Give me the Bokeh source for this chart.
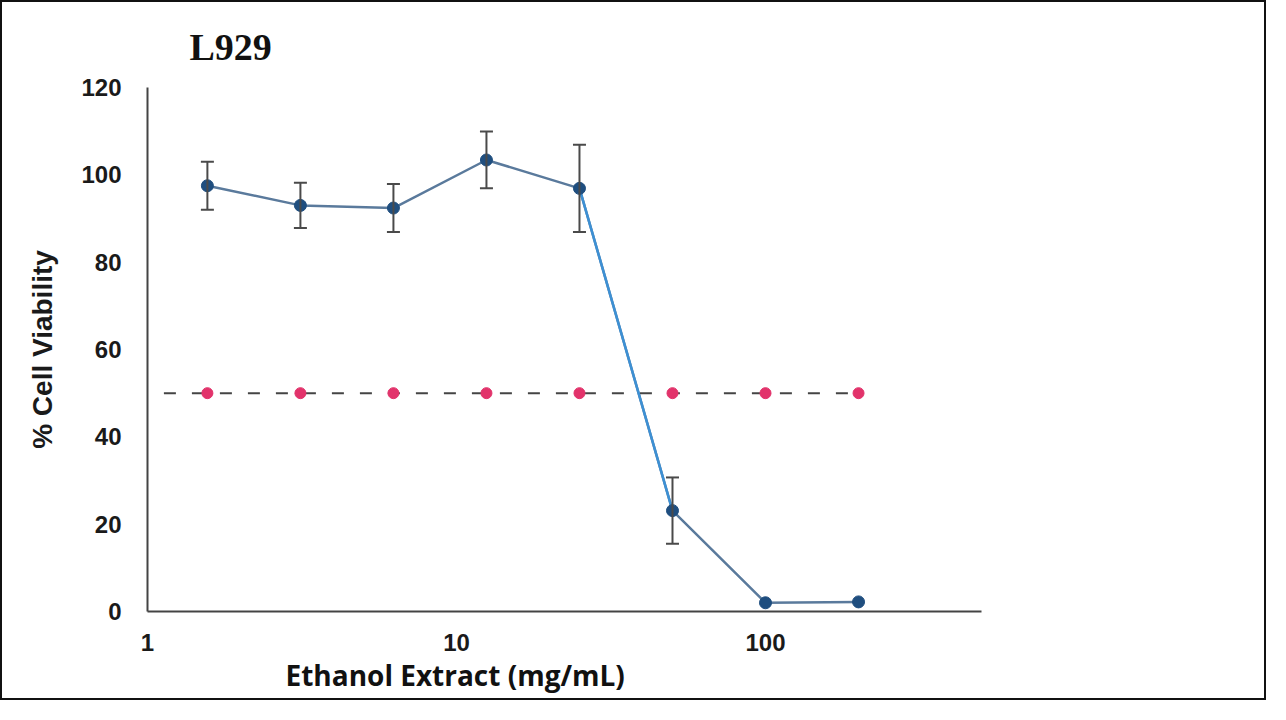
from bokeh.plotting import figure
from bokeh.models import (FixedTicker, Whisker, ColumnDataSource, TeeHead,
                          NumeralTickFormatter, Range1d, Title)
from bokeh.embed import file_html
from bokeh.resources import INLINE

# ---- data ----
concentration = [1.5625, 3.125, 6.25, 12.5, 25, 50, 100, 200]
viability = [97.5, 93.0, 92.4, 103.4, 96.9, 23.1, 2.0, 2.2]
viability_err = [5.5, 5.2, 5.5, 6.5, 10.0, 7.6, 0.0, 0.0]
ic50_level = [50, 50, 50, 50, 50, 50, 50, 50]
ic50_line_x = [1.13, 200]
ic50_line_y = [50, 50]
y_ticks = [0, 20, 40, 60, 80, 100, 120]
x_ticks = [1, 10, 100]
title_text = "L929"
x_label = "Ethanol Extract (mg/mL)"
y_label = "% Cell Viability"

W, H = 1266, 700
p = figure(width=W, height=H, x_axis_type="log", output_backend="svg",
           toolbar_location=None, x_range=Range1d(1, 500), y_range=Range1d(0, 120),
           min_border_left=145, min_border_right=287, min_border_top=85,
           min_border_bottom=91)
p.styles = {"border": "2px solid #111111"}
p.grid.visible = False
p.outline_line_color = None
p.background_fill_color = "white"
p.border_fill_color = "white"

for ax in (p.xaxis[0], p.yaxis[0]):
    ax.axis_line_color = "#444444"
    ax.axis_line_width = 2
    ax.major_tick_line_color = None
    ax.minor_tick_line_color = None
    ax.major_label_text_font = "Liberation Sans"
    ax.major_label_text_font_style = "bold"
    ax.major_label_text_font_size = "24px"
    ax.major_label_text_color = "#1a1a1a"

p.xaxis.ticker = FixedTicker(ticks=x_ticks)
p.xaxis.formatter = NumeralTickFormatter(format="0")
p.xaxis.major_label_standoff = 16
p.yaxis.ticker = FixedTicker(ticks=y_ticks)
p.yaxis.major_label_standoff = 20
p.yaxis.axis_label = y_label
p.yaxis.axis_label_text_font = "Liberation Sans"
p.yaxis.axis_label_text_font_style = "bold"
p.yaxis.axis_label_text_font_size = "28px"
p.yaxis.axis_label_text_color = "#1a1a1a"
p.yaxis.axis_label_standoff = 20

# main title (top-left, serif)
p.title.text = title_text
p.title.align = "left"
p.title.offset = 42
p.title.text_font = "Liberation Serif"
p.title.text_font_style = "bold"
p.title.text_font_size = "38px"
p.title.text_color = "#111111"
p.title.standoff = 40

# x-axis label as a below-title so it can be shifted left of frame centre
xl = Title(text=x_label, align="left", offset=138, text_font="Open Sans",
           text_font_style="bold", text_font_size="28px", text_color="#111111",
           standoff=1)
p.add_layout(xl, "below")

# reference 50% line
p.line(ic50_line_x, ic50_line_y, line_color="#444444", line_width=2, line_dash="12 16")
p.scatter(concentration, ic50_level, size=11, fill_color="#e2336b", line_color="#e2336b")

# error bars
keep = [i for i, e in enumerate(viability_err) if e > 0]
src_err = ColumnDataSource(dict(
    x=[concentration[i] for i in keep],
    upper=[viability[i] + viability_err[i] for i in keep],
    lower=[viability[i] - viability_err[i] for i in keep],
))
wh = Whisker(source=src_err, base="x", upper="upper", lower="lower",
             line_color="#4a4a4a", line_width=2, level="glyph",
             upper_head=TeeHead(size=13, line_color="#4a4a4a", line_width=2),
             lower_head=TeeHead(size=13, line_color="#4a4a4a", line_width=2))
p.add_layout(wh)

# viability line
p.line(concentration, viability, line_color="#5a7a9c", line_width=2.5)
p.line(concentration[4:6], viability[4:6], line_color="#3d90d4", line_width=2.5)
p.scatter(concentration, viability, size=12, fill_color="#1f4e7f", line_color="#1f4e7f")

open("out.html", "w").write(file_html(p, INLINE))
